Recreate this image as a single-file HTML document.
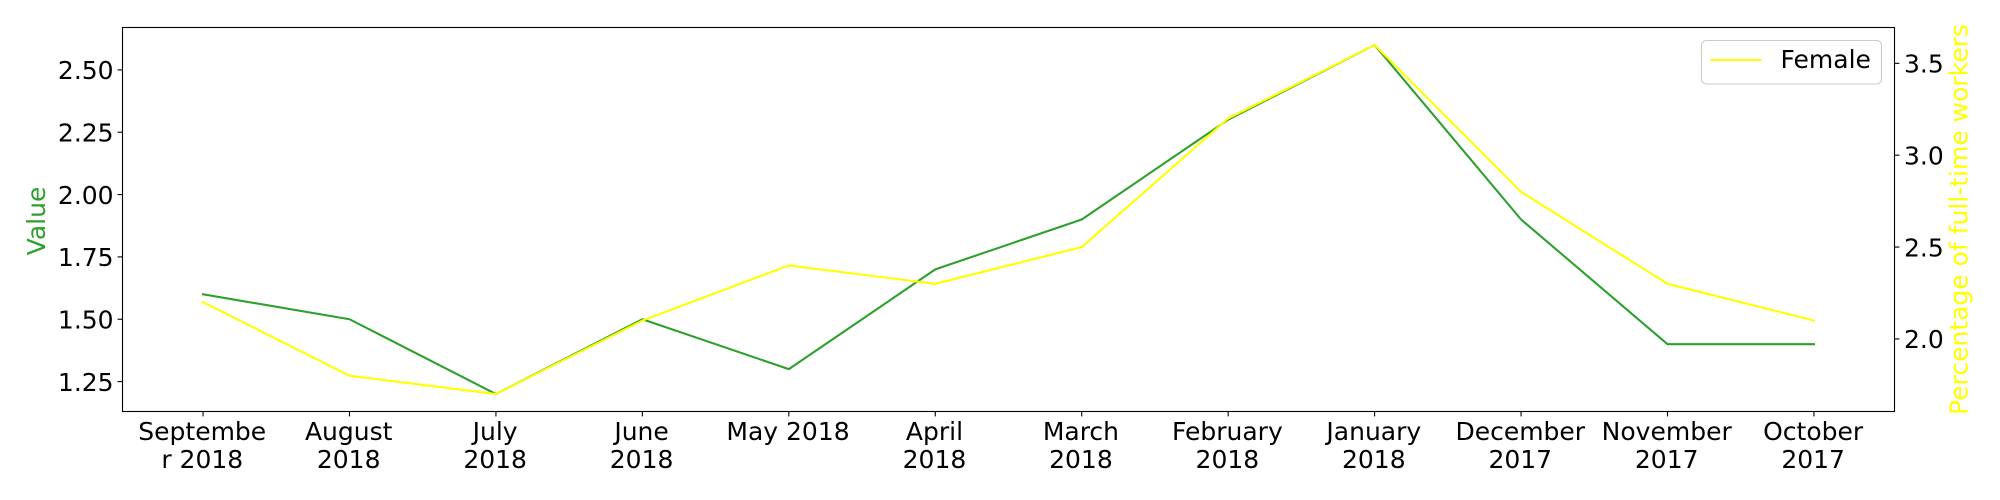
<!DOCTYPE html>
<html lang="en">
<head>
<meta charset="utf-8">
<title>Value and percentage of full-time workers</title>
<style>
html,body{margin:0;padding:0;background:#fff;width:2000px;height:500px;overflow:hidden}
svg{display:block}
text{font-family:"DejaVu Sans","Liberation Sans",sans-serif;font-size:25px;fill:#000}
</style>
</head>
<body>
<svg id="chart" xmlns="http://www.w3.org/2000/svg" width="2000" height="500" viewBox="0 0 2000 500">
  <rect x="122.5" y="27.5" width="1772" height="384" fill="#fff"/>
  <g id="series-layer"></g>
  <g id="x-axis"></g>
  <g id="y-axis-left"></g>
  <g id="y-axis-right"></g>
  <rect x="122.5" y="27.5" width="1772" height="384" fill="none" stroke="#000" stroke-width="1.1"/>
  <text transform="translate(45,221) rotate(-90)" text-anchor="middle" style="fill:#2ca02c">Value</text>
  <text transform="translate(1967.3,219.5) rotate(-90)" text-anchor="middle" style="fill:#ffff00">Percentage of full-time workers</text>
  <g>
    <rect x="1701.5" y="40.5" width="180" height="43.5" rx="5" ry="5" fill="#fff" fill-opacity="0.8" stroke="#cccccc" stroke-width="1.1"/>
    <line x1="1710" y1="60" x2="1762" y2="60" stroke="#ffff00" stroke-width="2.08"/>
    <text x="1780.5" y="68">Female</text>
  </g>
</svg>
<script>
const categories = ["Septembe\nr 2018", "August\n2018", "July\n2018", "June\n2018", "May 2018", "April\n2018", "March\n2018", "February\n2018", "January\n2018", "December\n2017", "November\n2017", "October\n2017"];
const valueSeries = [1.6, 1.5, 1.2, 1.5, 1.3, 1.7, 1.9, 2.3, 2.6, 1.9, 1.4, 1.4];
const femaleSeries = [2.2, 1.8, 1.7, 2.1, 2.4, 2.3, 2.5, 3.2, 3.6, 2.8, 2.3, 2.1];
const leftTicks = [1.25, 1.5, 1.75, 2.0, 2.25, 2.5];
const leftTickLabels = ["1.25", "1.50", "1.75", "2.00", "2.25", "2.50"];
const rightTicks = [2.0, 2.5, 3.0, 3.5];
const rightTickLabels = ["2.0", "2.5", "3.0", "3.5"];

const NS = "http://www.w3.org/2000/svg";
const plot = { left: 122.5, right: 1894.5, top: 27.5, bottom: 411.5 };

function paddedDomain(values) {
  const lo = Math.min.apply(null, values);
  const hi = Math.max.apply(null, values);
  const pad = (hi - lo) * 0.05;
  return [lo - pad, hi + pad];
}
function linearScale(domain, range) {
  return function (v) {
    return range[0] + (v - domain[0]) / (domain[1] - domain[0]) * (range[1] - range[0]);
  };
}
const xScale = linearScale([-0.55, categories.length - 1 + 0.55], [plot.left, plot.right]);
const yLeft = linearScale(paddedDomain(valueSeries), [plot.bottom, plot.top]);
const yRight = linearScale(paddedDomain(femaleSeries), [plot.bottom, plot.top]);

function makeLine(x1, y1, x2, y2) {
  const el = document.createElementNS(NS, "line");
  el.setAttribute("x1", x1);
  el.setAttribute("y1", y1);
  el.setAttribute("x2", x2);
  el.setAttribute("y2", y2);
  el.setAttribute("stroke", "#000");
  el.setAttribute("stroke-width", "1.1");
  return el;
}
function makeText(x, y, anchor, content) {
  const el = document.createElementNS(NS, "text");
  el.setAttribute("x", x);
  el.setAttribute("y", y);
  el.setAttribute("text-anchor", anchor);
  el.textContent = content;
  return el;
}
function makePolyline(values, yScale, color) {
  const el = document.createElementNS(NS, "polyline");
  const pts = values.map(function (v, i) { return xScale(i).toFixed(2) + "," + yScale(v).toFixed(2); });
  el.setAttribute("points", pts.join(" "));
  el.setAttribute("fill", "none");
  el.setAttribute("stroke", color);
  el.setAttribute("stroke-width", "2.08");
  el.setAttribute("stroke-linejoin", "round");
  el.setAttribute("stroke-linecap", "square");
  return el;
}

const seriesLayer = document.getElementById("series-layer");
const valueLine = makePolyline(valueSeries, yLeft, "#2ca02c");


seriesLayer.appendChild(valueLine);
const femaleLine = makePolyline(femaleSeries, yRight, "#ffff00");


seriesLayer.appendChild(femaleLine);

const xAxis = document.getElementById("x-axis");
categories.forEach(function (label, i) {
  const x = xScale(i);
  const tick = makeLine(x, plot.bottom, x, plot.bottom + 4.9);
  
  
  xAxis.appendChild(tick);
  label.split("\n").forEach(function (part, row) {
    const t = makeText(x - 0.8, 440 + row * 27.8, "middle", part);
    
    
    xAxis.appendChild(t);
  });
});

const leftAxis = document.getElementById("y-axis-left");
leftTicks.forEach(function (v, i) {
  const y = yLeft(v);
  const tick = makeLine(plot.left - 4.9, y, plot.left, y);
  
  
  leftAxis.appendChild(tick);
  const t = makeText(113.6, y + 9.2, "end", leftTickLabels[i]);
  
  
  leftAxis.appendChild(t);
});

const rightAxis = document.getElementById("y-axis-right");
rightTicks.forEach(function (v, i) {
  const y = yRight(v);
  const tick = makeLine(plot.right, y, plot.right + 4.9, y);
  
  
  rightAxis.appendChild(tick);
  const t = makeText(1904, y + 9.2, "start", rightTickLabels[i]);
  
  
  rightAxis.appendChild(t);
});
</script>
</body>
</html>
